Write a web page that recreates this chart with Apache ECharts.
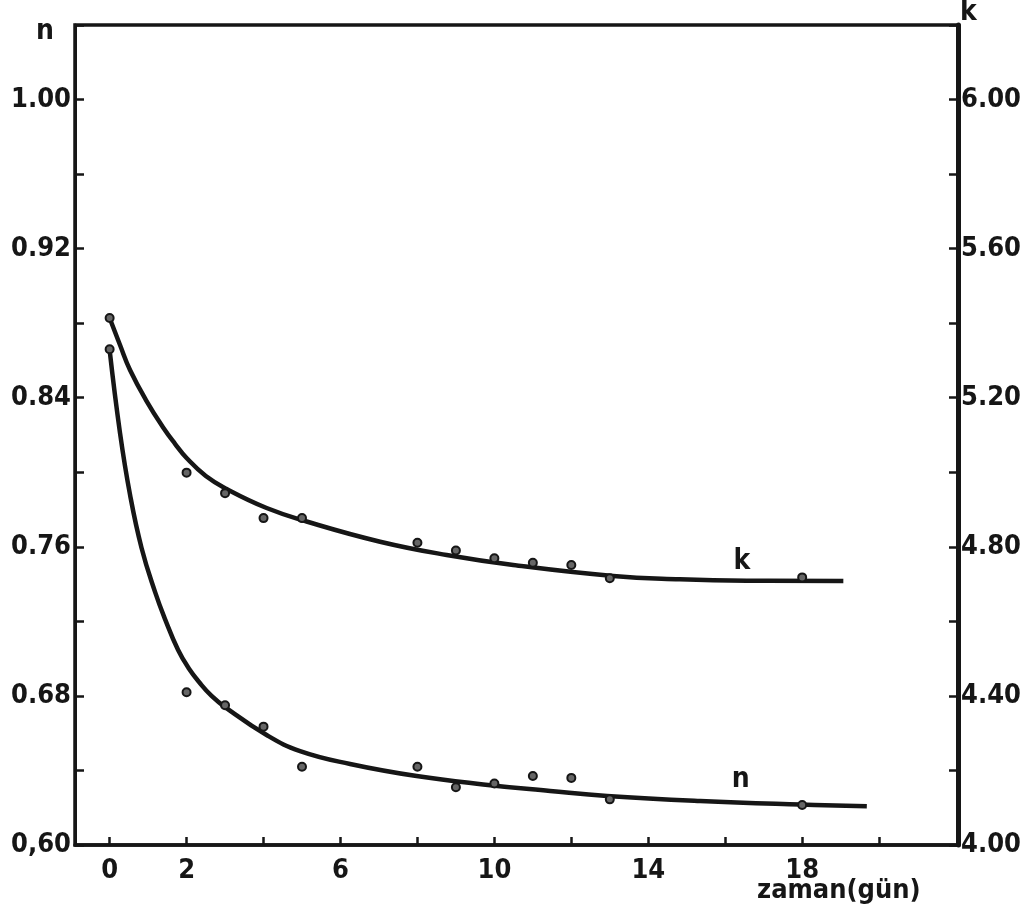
<!DOCTYPE html>
<html>
<head>
<meta charset="utf-8">
<script src="https://cdn.jsdelivr.net/npm/echarts@6/dist/echarts.min.js"></script>
<style>
html,body{margin:0;padding:0;background:#fff;}
#chart{width:1028px;height:924px;}
</style>
</head>
<body>
<div id="chart"></div>
<script>
// ---- data ----
const pointDays = [0, 2, 3, 4, 5, 8, 9, 10, 11, 12, 13, 18];
const nPoints = [0.866, 0.682, 0.675, 0.6635, 0.642, 0.642, 0.631, 0.633, 0.637, 0.636, 0.6245, 0.6215];
const kPoints = [5.414, 4.999, 4.944, 4.877, 4.877, 4.811, 4.790, 4.769, 4.757, 4.751, 4.716, 4.718];

const nCurveDays = [0, 0.27, 0.53, 0.83, 1.18, 1.45, 1.78, 2.05, 2.35, 2.65, 3.0, 4.08, 4.95, 6.25, 7.98, 9.71, 11.45, 12.93, 15.35, 17.95, 19.68];
const nCurve = [0.8656, 0.8211, 0.7880, 0.7594, 0.7358, 0.7207, 0.7046, 0.6950, 0.6868, 0.6800, 0.6740, 0.6590, 0.6504, 0.6435, 0.6370, 0.6325, 0.6290, 0.6263, 0.6236, 0.6217, 0.6208];

const kCurveDays = [0, 0.27, 0.53, 0.96, 1.40, 1.70, 2.0, 2.5, 3.04, 4.08, 5.12, 7.03, 8.76, 10.49, 13.09, 14.82, 16.56, 19.07];
const kCurve = [5.414, 5.3415, 5.2744, 5.1912, 5.1188, 5.0764, 5.0383, 4.990, 4.9551, 4.9041, 4.8679, 4.8137, 4.7780, 4.7512, 4.7217, 4.7129, 4.7091, 4.7083];

const xTickValues = [0, 2, 4, 6, 8, 10, 12, 14, 16, 18, 20];
const xLabelValues = [0, 2, 6, 10, 14, 18];
const nLabelValues = [0.60, 0.68, 0.76, 0.84, 0.92, 1.00];
const nLabelTexts = ['0,60', '0.68', '0.76', '0.84', '0.92', '1.00'];
const kLabelValues = [4.00, 4.40, 4.80, 5.20, 5.60, 6.00];
const kLabelTexts = ['4.00', '4.40', '4.80', '5.20', '5.60', '6.00'];

const nLabelPos = [16.4, 0.635];
const kLabelPos = [16.43, 4.76];

// ---- chart ----
const FONT = "'DejaVu Sans Condensed', 'DejaVu Sans', sans-serif";
const INK = '#161616';
const pair = (xs, ys) => xs.map((x, i) => [x, ys[i]]);
const lookup = (vals, texts) => (v) => {
  for (let i = 0; i < vals.length; i++) if (Math.abs(vals[i] - v) < 1e-6) return texts[i];
  return '';
};
const tickText = {color: INK, fontFamily: FONT, fontSize: 27, fontWeight: 'bold'};

const chart = echarts.init(document.getElementById('chart'), null, {renderer: 'canvas'});
chart.setOption({
  animation: false,
  backgroundColor: '#ffffff',
  grid: {left: 75, right: 70, top: 25, bottom: 79, show: true, borderColor: INK, borderWidth: 3.5, backgroundColor: 'transparent'},
  xAxis: {
    type: 'value', min: -0.9, max: 22.05,
    axisLine: {show: true, onZero: false, lineStyle: {color: INK, width: 3.5}},
    axisTick: {show: true, inside: true, length: 8, customValues: xTickValues, lineStyle: {color: INK, width: 2.5}},
    axisLabel: Object.assign({show: true, customValues: xLabelValues, margin: 12}, tickText),
    splitLine: {show: false}
  },
  yAxis: [
    {
      type: 'value', min: 0.60, max: 1.04, interval: 0.04, position: 'left',
      axisLine: {show: true, onZero: false, lineStyle: {color: INK, width: 3}},
      axisTick: {show: true, inside: true, length: 9, lineStyle: {color: INK, width: 2.5}},
      axisLabel: Object.assign({show: true, customValues: nLabelValues, formatter: lookup(nLabelValues, nLabelTexts), margin: 4}, tickText),
      splitLine: {show: false}
    },
    {
      type: 'value', min: 4.00, max: 6.20, interval: 0.20, position: 'right',
      axisLine: {show: true, onZero: false, lineStyle: {color: INK, width: 5}},
      axisTick: {show: true, inside: true, length: 9, lineStyle: {color: INK, width: 2.5}},
      axisLabel: Object.assign({show: true, customValues: kLabelValues, formatter: lookup(kLabelValues, kLabelTexts), margin: 3}, tickText),
      splitLine: {show: false}
    }
  ],
  series: [
    {
      type: 'line', name: 'n fit', yAxisIndex: 0, data: pair(nCurveDays, nCurve),
      smooth: 0.45, showSymbol: false, lineStyle: {color: INK, width: 4.5}, z: 3
    },
    {
      type: 'line', name: 'k fit', yAxisIndex: 1, data: pair(kCurveDays, kCurve),
      smooth: 0.45, showSymbol: false, lineStyle: {color: INK, width: 4.5}, z: 3
    },
    {
      type: 'scatter', name: 'n', yAxisIndex: 0, data: pair(pointDays, nPoints),
      symbol: 'circle', symbolSize: 8, itemStyle: {color: '#666', borderColor: INK, borderWidth: 2, opacity: 1}, z: 4
    },
    {
      type: 'scatter', name: 'k', yAxisIndex: 1, data: pair(pointDays, kPoints),
      symbol: 'circle', symbolSize: 8, itemStyle: {color: '#666', borderColor: INK, borderWidth: 2, opacity: 1}, z: 4
    },
    {
      type: 'scatter', yAxisIndex: 0, data: [nLabelPos], symbolSize: 0, silent: true, itemStyle: {opacity: 1},
      label: {show: true, position: 'inside', formatter: 'n', color: INK, fontFamily: FONT, fontSize: 28, fontWeight: 'bold'}
    },
    {
      type: 'scatter', yAxisIndex: 1, data: [kLabelPos], symbolSize: 0, silent: true, itemStyle: {opacity: 1},
      label: {show: true, position: 'inside', formatter: 'k', color: INK, fontFamily: FONT, fontSize: 28, fontWeight: 'bold'}
    }
  ],
  graphic: [
    {type: 'text', left: 36, top: 18, style: {text: 'n', fill: INK, font: 'bold 28px ' + FONT}},
    {type: 'text', left: 960, top: -1, style: {text: 'k', fill: INK, font: 'bold 28px ' + FONT}},
    {type: 'text', left: 757, top: 877, style: {text: 'zaman(gün)', fill: INK, font: 'bold 27px ' + FONT}}
  ]
});
</script>
</body>
</html>
